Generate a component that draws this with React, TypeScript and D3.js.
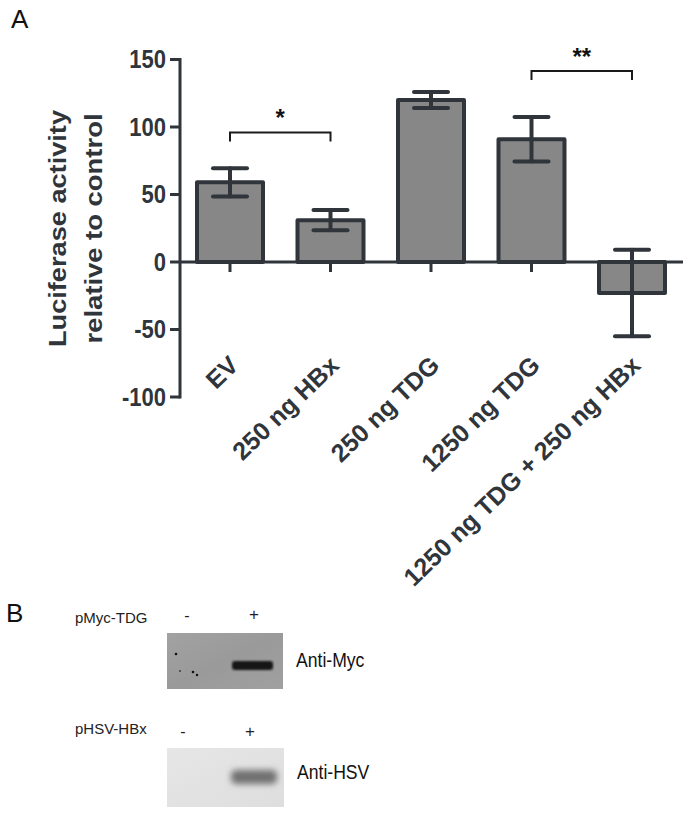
import React from "react";
import * as d3 from "d3";

const categories = ["EV", "250 ng HBx", "250 ng TDG", "1250 ng TDG", "1250 ng TDG + 250 ng HBx"];
const means = [59, 31, 120, 91, -23];
const errors = [10.5, 7.5, 6, 16.5, 32];
const yTicks = [150, 100, 50, 0, -50, -100];
const brackets = [
  { from: 0, to: 1, level: 96, label: "*" },
  { from: 3, to: 4, level: 141.5, label: "**" },
];
const yTitleLines = ["Luciferase activity", "relative to control"];
const blotRows = [
  { plasmid: "pMyc-TDG", antibody: "Anti-Myc" },
  { plasmid: "pHSV-HBx", antibody: "Anti-HSV" },
];

const INK = "#2f353b";
const BAR = "#878787";
const FONT = "'Liberation Sans', Arial, Helvetica, sans-serif";

export default function App() {
  const y = d3.scaleLinear().domain([-100, 150]).range([397, 59.5]);
  const x = d3.scalePoint<string>().domain(categories).range([230, 632]);
  const barW = 66;
  const y0 = y(0);

  return (
    <svg
      width={689}
      height={813}
      viewBox="0 0 689 813"
      style={{ position: "absolute", left: 0, top: 0, background: "#fff" }}
      fontFamily={FONT}
    >
      <defs>
        <filter id="blur1" x="-20%" y="-50%" width="140%" height="200%">
          <feGaussianBlur stdDeviation="1.2" />
        </filter>
        <filter id="blur2" x="-30%" y="-80%" width="160%" height="260%">
          <feGaussianBlur stdDeviation="3" />
        </filter>
        <linearGradient id="g1" x1="0" y1="0" x2="1" y2="1">
          <stop offset="0" stopColor="#a2a2a2" />
          <stop offset="0.5" stopColor="#9a9a9a" />
          <stop offset="1" stopColor="#a0a0a0" />
        </linearGradient>
        <linearGradient id="g2" x1="0" y1="0" x2="1" y2="1">
          <stop offset="0" stopColor="#e6e6e6" />
          <stop offset="1" stopColor="#dedede" />
        </linearGradient>
      </defs>

      {/* Panel A label */}
      <text x={11} y={28} fontSize={26} fill="#111">A</text>

      {/* Y axis title */}
      {yTitleLines.map((t, i) => (
        <text
          key={t}
          transform={`translate(${66 + i * 36},228.5) rotate(-90)`}
          textAnchor="middle"
          fontSize={24}
          fontWeight="bold"
          fill={INK}
          textLength={i === 0 ? 237 : 230}
          lengthAdjust="spacingAndGlyphs"
        >
          {t}
        </text>
      ))}

      {/* Bars */}
      {categories.map((c, i) => {
        const v = means[i];
        const top = v >= 0 ? y(v) : y0;
        const h = Math.abs(y(v) - y0);
        return (
          <rect
            key={c}
            x={(x(c) as number) - barW / 2}
            y={top}
            width={barW}
            height={h}
            fill={BAR}
            stroke={INK}
            strokeWidth={4}
            strokeLinejoin="round"
          />
        );
      })}

      {/* Y axis */}
      <line x1={180} x2={180} y1={y(150) - 1.5} y2={y(-100) + 1.5} stroke={INK} strokeWidth={3} />
      {yTicks.map((t) => (
        <g key={t}>
          <line x1={170} x2={180} y1={y(t)} y2={y(t)} stroke={INK} strokeWidth={3} />
          <text
            transform={`translate(166,${y(t)}) scale(1,1.13)`}
            dy="0.36em"
            textAnchor="end"
            fontSize={22}
            fontWeight="bold"
            fill={INK}
          >
            {t}
          </text>
        </g>
      ))}

      {/* Zero line / x axis */}
      <line x1={180} x2={683} y1={y0} y2={y0} stroke={INK} strokeWidth={3} />
      {categories.map((c) => (
        <line
          key={c}
          x1={x(c)}
          x2={x(c)}
          y1={y0}
          y2={y0 + 10}
          stroke={INK}
          strokeWidth={3}
        />
      ))}

      {/* Error bars */}
      {categories.map((c, i) => {
        const cx = x(c) as number;
        const hi = y(means[i] + errors[i]);
        const lo = y(means[i] - errors[i]);
        return (
          <g key={c} stroke={INK} strokeWidth={4} strokeLinecap="round">
            <line x1={cx} x2={cx} y1={hi} y2={lo} />
            <line x1={cx - 17} x2={cx + 17} y1={hi} y2={hi} />
            <line x1={cx - 17} x2={cx + 17} y1={lo} y2={lo} />
          </g>
        );
      })}

      {/* X labels */}
      {categories.map((c) => (
        <text
          key={c}
          transform={`translate(${(x(c) as number) + 10},367) rotate(-44)`}
          textAnchor="end"
          fontSize={25}
          fontWeight="bold"
          fill={INK}
        >
          {c}
        </text>
      ))}

      {/* Significance brackets */}
      {brackets.map((b) => {
        const x1 = x(categories[b.from]) as number;
        const x2 = x(categories[b.to]) as number;
        const yy = y(b.level);
        return (
          <g key={b.label}>
            <path
              d={`M${x1},${yy + 9}V${yy}H${x2}V${yy + 9}`}
              fill="none"
              stroke="#1a1a1a"
              strokeWidth={2}
            />
            <text
              x={(x1 + x2) / 2}
              y={yy - 6}
              textAnchor="middle"
              fontSize={24}
              fontWeight="bold"
              fill="#111"
            >
              {b.label}
            </text>
          </g>
        );
      })}

      {/* Panel B */}
      <text x={6} y={622} fontSize={26} fill="#111">B</text>

      {/* Row 1 */}
      <text x={75} y={623} fontSize={15} fill="#222">{blotRows[0].plasmid}</text>
      <text x={187} y={621} fontSize={16} textAnchor="middle" fill="#2a1a1a">-</text>
      <text x={254} y={620} fontSize={17} textAnchor="middle" fill="#2a1a1a">+</text>
      <rect x={167} y={633} width={116} height={56} fill="url(#g1)" />
      <rect x={232} y={661} width={41} height={9} rx={3} fill="#141414" filter="url(#blur1)" />
      <circle cx={176} cy={654} r={1.3} fill="#111" />
      <circle cx={180} cy={671} r={0.9} fill="#333" />
      <circle cx={193} cy={672} r={1.3} fill="#111" />
      <circle cx={197} cy={675} r={1.2} fill="#111" />
      <text transform="translate(296,667) scale(0.88,1)" fontSize={20} fill="#111">{blotRows[0].antibody}</text>

      {/* Row 2 */}
      <text x={75} y={734} fontSize={15} fill="#222">{blotRows[1].plasmid}</text>
      <text x={183} y={737} fontSize={16} textAnchor="middle" fill="#2a1a1a">-</text>
      <text x={250} y={737} fontSize={17} textAnchor="middle" fill="#2a1a1a">+</text>
      <rect x={167} y={748} width={117} height={59} fill="url(#g2)" />
      <rect x={231} y={770} width={46} height={14} rx={5} fill="#6f6f6f" filter="url(#blur2)" />
      <text transform="translate(297,779) scale(0.88,1)" fontSize={20} fill="#111">{blotRows[1].antibody}</text>
    </svg>
  );
}
